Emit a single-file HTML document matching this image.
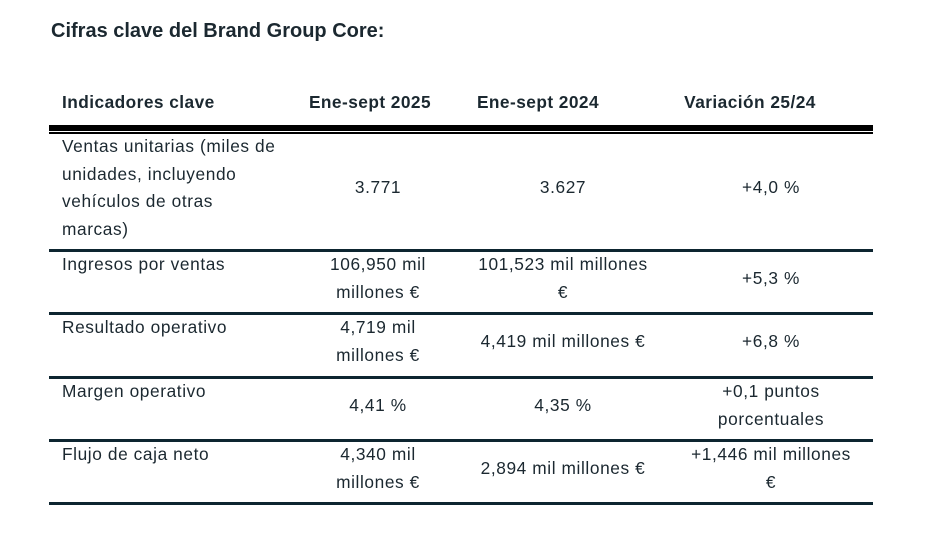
<!DOCTYPE html>
<html><head><meta charset="utf-8"><style>
body{margin:0;width:950px;height:552px;background:#fff;font-family:"Liberation Sans",sans-serif;color:#1b2830;position:relative;overflow:hidden}
div{position:absolute;white-space:nowrap}
.t{font-size:17.3px;line-height:27.5px;letter-spacing:0.6px}
.c{text-align:center;width:220px}
.h{font-weight:bold;font-size:17.3px;top:92px;letter-spacing:0.45px}
.ln{left:49px;width:824px;height:3px;background:#0d2530}
</style></head><body>
<div style="left:51px;top:20px;font-size:20px;font-weight:bold">Cifras clave del Brand Group Core:</div>
<div class="h" style="left:62px">Indicadores clave</div>
<div class="h c" style="left:260px">Ene-sept 2025</div>
<div class="h c" style="left:428px">Ene-sept 2024</div>
<div class="h c" style="left:640px">Variación 25/24</div>
<div class="ln" style="top:125px;height:6px;background:#000"></div>
<div class="ln" style="top:132px;height:1.5px;background:#000"></div>

<div class="t" style="left:62px;top:133px">Ventas unitarias (miles de<br>unidades, incluyendo<br>vehículos de otras<br>marcas)</div>
<div class="t c" style="left:268px;top:174px">3.771</div>
<div class="t c" style="left:453px;top:174px">3.627</div>
<div class="t c" style="left:661px;top:174px">+4,0 %</div>
<div class="ln" style="top:249px"></div>

<div class="t" style="left:62px;top:251px">Ingresos por ventas</div>
<div class="t c" style="left:268px;top:251px">106,950 mil<br>millones €</div>
<div class="t c" style="left:453px;top:251px">101,523 mil millones<br>€</div>
<div class="t c" style="left:661px;top:265px">+5,3 %</div>
<div class="ln" style="top:312px"></div>

<div class="t" style="left:62px;top:314px">Resultado operativo</div>
<div class="t c" style="left:268px;top:314px">4,719 mil<br>millones €</div>
<div class="t c" style="left:453px;top:328px">4,419 mil millones €</div>
<div class="t c" style="left:661px;top:328px">+6,8 %</div>
<div class="ln" style="top:376px"></div>

<div class="t" style="left:62px;top:378px">Margen operativo</div>
<div class="t c" style="left:268px;top:392px">4,41 %</div>
<div class="t c" style="left:453px;top:392px">4,35 %</div>
<div class="t c" style="left:661px;top:378px">+0,1 puntos<br>porcentuales</div>
<div class="ln" style="top:439px"></div>

<div class="t" style="left:62px;top:441px">Flujo de caja neto</div>
<div class="t c" style="left:268px;top:441px">4,340 mil<br>millones €</div>
<div class="t c" style="left:453px;top:455px">2,894 mil millones €</div>
<div class="t c" style="left:661px;top:441px">+1,446 mil millones<br>€</div>
<div class="ln" style="top:502px"></div>
</body></html>
